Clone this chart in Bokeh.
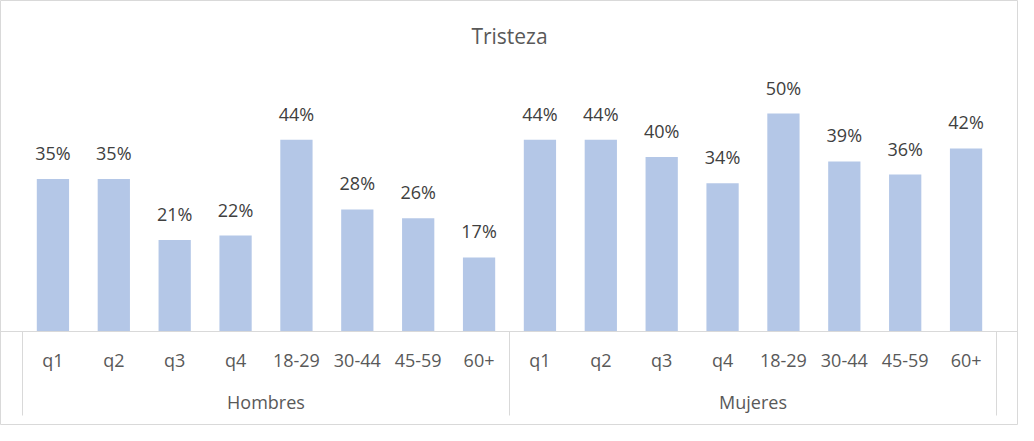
from bokeh.plotting import figure
from bokeh.models import FactorRange, Range1d, ColumnDataSource, CategoricalAxis, Label
from bokeh.core.properties import value
from bokeh.embed import file_html
from bokeh.resources import INLINE

groups = ["Hombres", "Mujeres"]
cats = ["q1", "q2", "q3", "q4", "18-29", "30-44", "45-59", "60+"]
hombres = [35, 35, 21, 22, 44, 28, 26, 17]
mujeres = [44, 44, 40, 34, 50, 39, 36, 42]
title_text = "Tristeza"

factors = [(g, c) for g in groups for c in cats]
vals = hombres + mujeres
labels = [f"{v}%" for v in vals]

W, H = 1018, 425
px_per = 4.36
base = 331
y_end = base / px_per
y_start = -(H - base) / px_per

p = figure(width=W, height=H, output_backend="svg", toolbar_location=None,
           x_range=FactorRange(*factors, group_padding=0, factor_padding=0, range_padding=0.04517),
           y_range=Range1d(y_start, y_end),
           min_border_left=0, min_border_right=0, min_border_top=0, min_border_bottom=0)
p.background_fill_color = "white"
p.border_fill_color = "white"
p.outline_line_color = "#d9d9d9"
p.outline_line_width = 1
p.xgrid.visible = False
p.ygrid.visible = False
p.yaxis.visible = False

src = ColumnDataSource(dict(x=factors, top=vals, lab=labels))
p.vbar(x="x", top="top", bottom=0, width=0.53, source=src,
       fill_color="#b4c7e7", line_color=None)
p.text(x="x", y="top", text="lab", source=src, y_offset=-26,
       text_align="center", text_baseline="middle",
       text_font=value("Open Sans"), text_font_size=value("18px"), text_color="#404040")

# category box lines
box_bottom = -(423 - 339) / px_per
edges = [(groups[0], cats[0], -0.5), (groups[1], cats[0], -0.5), (groups[1], cats[-1], 0.5)]
p.segment(x0=edges, y0=[0] * 3, x1=edges, y1=[box_bottom] * 3, line_color="#d9d9d9", line_width=1)

ax = p.xaxis[0]
ax.fixed_location = 0
ax.axis_line_color = "#d9d9d9"
ax.major_tick_line_color = None
ax.minor_tick_line_color = None
ax.separator_line_color = None
ax.major_label_standoff = 10
ax.major_label_text_font = "Open Sans"
ax.major_label_text_font_size = "18px"
ax.major_label_text_color = "#595959"
ax.group_text_color = None

ax2 = CategoricalAxis(fixed_location=0)
ax2.axis_line_color = None
ax2.major_tick_line_color = None
ax2.minor_tick_line_color = None
ax2.separator_line_color = None
ax2.major_label_standoff = 52
ax2.major_label_text_font = "Open Sans"
ax2.major_label_text_font_size = "18px"
ax2.major_label_text_color = None
ax2.group_text_font = "Open Sans"
ax2.group_text_font_size = "18px"
ax2.group_text_font_style = "normal"
ax2.group_text_color = "#595959"
p.add_layout(ax2, "below")

p.add_layout(Label(x=8, y=(base - 35.5) / px_per, text=title_text, text_align="center",
                   text_baseline="middle", text_font="Open Sans", text_font_size="21px",
                   text_color="#595959"))

open("out.html", "w").write(file_html(p, INLINE))
